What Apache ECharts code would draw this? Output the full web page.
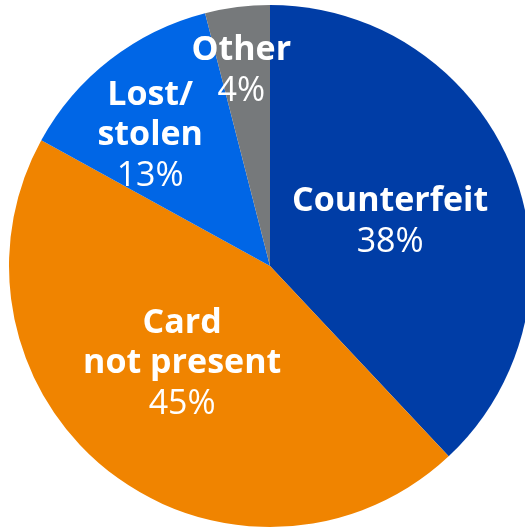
<!DOCTYPE html>
<html>
<head>
<meta charset="utf-8">
<script src="https://cdn.jsdelivr.net/npm/echarts@6/dist/echarts.min.js"></script>
<style>
  html, body { margin: 0; padding: 0; background: #ffffff; }
  #chart { width: 525px; height: 528px; }
</style>
</head>
<body>
<div id="chart"></div>
<script>
// Card fraud losses by type (share of total)
const categories = ['Counterfeit', 'Card\nnot present', 'Lost/\nstolen', 'Other'];
const shares = [38, 45, 13, 4];
const colors = ['#003da6', '#f08400', '#0066e6', '#76797b'];
// Small per-slice label nudges (px) so each label sits comfortably in its slice
const labelShiftX = [-4, -6, -38, -12];
const labelShiftY = [5, -7, -24, -62];

const chart = echarts.init(document.getElementById('chart'), null, { renderer: 'canvas' });

const data = categories.map((name, i) => ({
  name: name,
  value: shares[i],
  itemStyle: { color: colors[i] }
}));

chart.setOption({
  animation: false,
  series: [{
    type: 'pie',
    center: [270, 266],
    radius: 261,
    startAngle: 90,
    clockwise: true,
    data: data,
    itemStyle: { borderWidth: 0 },
    label: {
      show: true,
      position: 'inside',
      formatter: function (p) {
        const lines = p.name.split('\n').map(s => '{n|' + s + '}');
        return lines.join('\n') + '\n{p|' + p.value + '%}';
      },
      rich: {
        n: {
          fontFamily: 'Open Sans',
          fontWeight: 'bold',
          fontSize: 34,
          lineHeight: 40,
          color: '#ffffff',
          align: 'center'
        },
        p: {
          fontFamily: 'Open Sans',
          fontWeight: 'normal',
          fontSize: 34,
          lineHeight: 42,
          color: '#ffffff',
          align: 'center'
        }
      }
    },
    labelLine: { show: false },
    labelLayout: function (params) {
      return { dx: labelShiftX[params.dataIndex], dy: labelShiftY[params.dataIndex] };
    },
    emphasis: { disabled: true }
  }]
});
</script>
</body>
</html>
